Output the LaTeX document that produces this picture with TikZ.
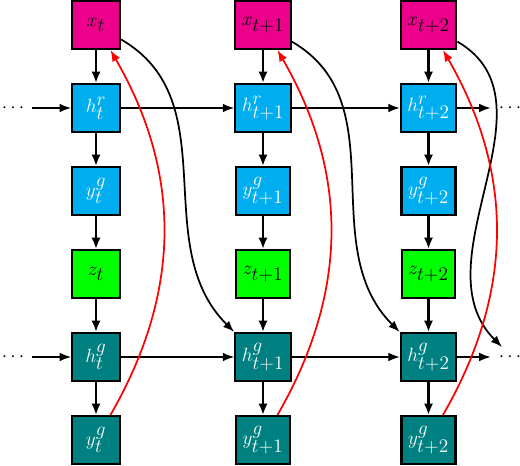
\documentclass[tikz,border=0pt]{standalone}
\usetikzlibrary{arrows.meta}
\DeclareMathSizes{14}{14}{14}{10}
\begin{document}
\begin{tikzpicture}[x=0.75pt, y=0.75pt,
    cell/.style={draw, line width=1.6pt, minimum size=36pt, inner sep=5pt, font=\fontsize{14}{16}\selectfont},
    dotsnode/.style={inner sep=6pt, font=\fontsize{14}{16}\selectfont},
    down/.style={line width=1.8pt, -{Latex[length=8.5pt,width=7pt]}},
    along/.style={line width=0.9pt, -{Latex[length=8.5pt,width=6.5pt]}},
    skip/.style={line width=1.3pt, -{Latex[length=8.5pt,width=6.5pt]}},
    back/.style={line width=1.3pt, red, -{Latex[length=8.5pt,width=6.5pt]}}]
    \definecolor{in-pink}{RGB}{236,0,140}
    \definecolor{my-cyan}{RGB}{0,174,239}
    \definecolor{my-green}{RGB}{0,255,0}
    \definecolor{my-teal}{RGB}{0,128,128}
    \useasboundingbox (0,0) rectangle (520,466);
    % inputs
    \node[cell, fill=in-pink] (x1) at (96,441) {$x_t$};
    \node[cell, fill=in-pink] (x2) at (263,441) {$x_{t+1}$};
    \node[cell, fill=in-pink] (x3) at (428.5,441) {$x_{t+2}$};
    % reader states
    \node[cell, fill=my-cyan, text=white] (hr1) at (96,358) {$h^r_t$};
    \node[cell, fill=my-cyan, text=white] (hr2) at (263,358) {$h^r_{t+1}$};
    \node[cell, fill=my-cyan, text=white] (hr3) at (428.5,358) {$h^r_{t+2}$};
    \node[cell, fill=my-cyan, text=white] (yr1) at (96,275) {$y^g_t$};
    \node[cell, fill=my-cyan, text=white] (yr2) at (263,275) {$y^g_{t+1}$};
    \node[cell, fill=my-cyan, text=white] (yr3) at (428.5,275) {$y^g_{t+2}$};
    % latent
    \node[cell, fill=my-green] (z1) at (96,192) {$z_t$};
    \node[cell, fill=my-green] (z2) at (263,192) {$z_{t+1}$};
    \node[cell, fill=my-green] (z3) at (428.5,192) {$z_{t+2}$};
    % generator states
    \node[cell, fill=my-teal, text=white] (hg1) at (96,109) {$h^g_t$};
    \node[cell, fill=my-teal, text=white] (hg2) at (263,109) {$h^g_{t+1}$};
    \node[cell, fill=my-teal, text=white] (hg3) at (428.5,109) {$h^g_{t+2}$};
    \node[cell, fill=my-teal, text=white] (yg1) at (96,26) {$y^g_t$};
    \node[cell, fill=my-teal, text=white] (yg2) at (263,26) {$y^g_{t+1}$};
    \node[cell, fill=my-teal, text=white] (yg3) at (428.5,26) {$y^g_{t+2}$};
    % dots
    \node[dotsnode] (dr0) at (13,358) {$\cdots$};
    \node[dotsnode] (dr4) at (510,358) {$\cdots$};
    \node[dotsnode] (dg0) at (13,109) {$\cdots$};
    \node[dotsnode] (dg4) at (510,109) {$\cdots$};
    \coordinate (gout) at (502,119);
    % vertical
    \draw[down] (x1) -- (hr1);
    \draw[down] (x2) -- (hr2);
    \draw[down] (x3) -- (hr3);
    \draw[down] (hr1) -- (yr1);
    \draw[down] (hr2) -- (yr2);
    \draw[down] (hr3) -- (yr3);
    \draw[down] (yr1) -- (z1);
    \draw[down] (yr2) -- (z2);
    \draw[down] (yr3) -- (z3);
    \draw[down] (z1) -- (hg1);
    \draw[down] (z2) -- (hg2);
    \draw[down] (z3) -- (hg3);
    \draw[down] (hg1) -- (yg1);
    \draw[down] (hg2) -- (yg2);
    \draw[down] (hg3) -- (yg3);
    % horizontal
    \draw[along] (dr0) -- (hr1);
    \draw[along] (hr1) -- (hr2);
    \draw[along] (hr2) -- (hr3);
    \draw[along] (hr3) -- (dr4);
    \draw[along] (dg0) -- (hg1);
    \draw[along] (hg1) -- (hg2);
    \draw[along] (hg2) -- (hg3);
    \draw[along] (hg3) -- (dg4);
    % skip connections
    \draw[skip] (x1) to[out=-30, in=135] (hg2.north west);
    \draw[skip] (x2) to[out=-30, in=135] (hg3.north west);
    \draw[skip] (x3) to[out=-30, in=135] (gout);
    % feedback
    \draw[back] (yg1) to[out=60, in=-60] (x1);
    \draw[back] (yg2) to[out=60, in=-60] (x2);
    \draw[back] (yg3) to[out=60, in=-60] (x3);
\end{tikzpicture}
\end{document}
